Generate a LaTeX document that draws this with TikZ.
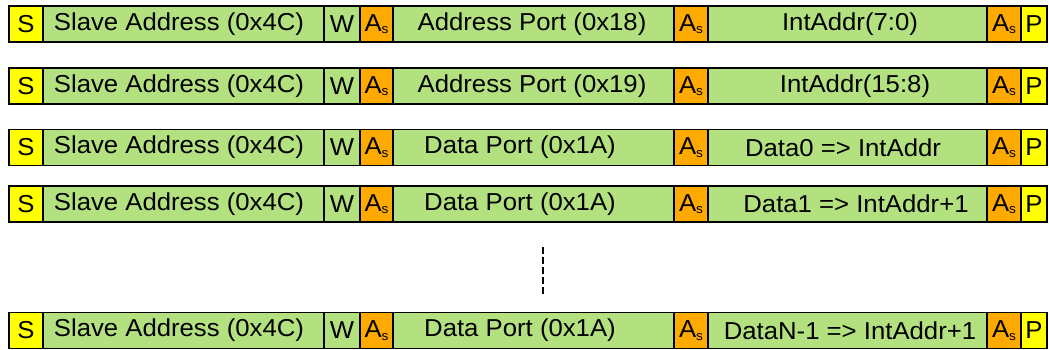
\documentclass[tikz,border=0pt]{standalone}
\usepackage{fontspec}
\setmainfont{Liberation Sans}[FakeStretch=1.05]
\definecolor{segyellow}{RGB}{255,255,0}
\definecolor{seggreen}{RGB}{180,225,127}
\definecolor{segorange}{RGB}{255,170,0}
\newcommand\Asub{A{\fontsize{13}{13}\selectfont\raisebox{-2.5pt}{s}}}
% #1 prefix, #2 y centre, #3 port text, #4 port text x, #5 data text, #6 data text x
\newcommand\rowframe[6]{%
  \node[seg,fill=segyellow,minimum width=34pt]  (#1s)  at (26,#2)    {S};
  \node[seg,fill=seggreen,minimum width=281pt]  (#1sa) at (183.5,#2) {};
  \node[txt] (#1sat) at (179,#2) {Slave Address (0x4C)};
  \node[seg,fill=seggreen,minimum width=36pt]   (#1w)  at (342,#2)   {W};
  \node[seg,fill=segorange,minimum width=33pt]  (#1a1) at (376.5,#2) {\Asub};
  \node[seg,fill=seggreen,minimum width=281pt]  (#1pt) at (533.5,#2) {};
  \node[txt] (#1ptt) at (#4,#2) {#3};
  \node[seg,fill=segorange,minimum width=34pt]  (#1a2) at (691,#2)   {\Asub};
  \node[seg,fill=seggreen,minimum width=279pt]  (#1d)  at (847.5,#2) {};
  \node[txt] (#1dt) at (#6,#2) {#5};
  \node[seg,fill=segorange,minimum width=34pt]  (#1a3) at (1004,#2)  {\Asub};
  \node[seg,fill=segyellow,minimum width=26pt]  (#1p)  at (1034,#2)  {P};
}
\begin{document}
\begin{tikzpicture}[x=1pt,y=-1pt,
  seg/.style={draw=black,line width=1.5pt,minimum height=36pt,inner sep=0pt,
    anchor=center,font=\fontsize{24.5}{25}\selectfont},
  txt/.style={inner sep=0pt,anchor=center,font=\fontsize{24.5}{25}\selectfont}]
\useasboundingbox (0,0) rectangle (1049,350);
\rowframe{ra}{24}{Address Port (0x18)}{532}{IntAddr(7:0)}{850}
\rowframe{rb}{86}{Address Port (0x19)}{532}{IntAddr(15:8)}{855}
\rowframe{rc}{147.5}{Data Port (0x1A)}{520}{Data0 => IntAddr}{843}
\rowframe{rd}{204}{Data Port (0x1A)}{520}{Data1 => IntAddr+1}{856}
\rowframe{re}{330.5}{Data Port (0x1A)}{520}{DataN-1 => IntAddr+1}{850}
\coordinate (dtop) at (543,247);
\coordinate (dbot) at (543,295);
\draw[line width=2.8pt,dash pattern=on 7pt off 3pt] (dtop) -- (dbot);
\end{tikzpicture}
\end{document}
